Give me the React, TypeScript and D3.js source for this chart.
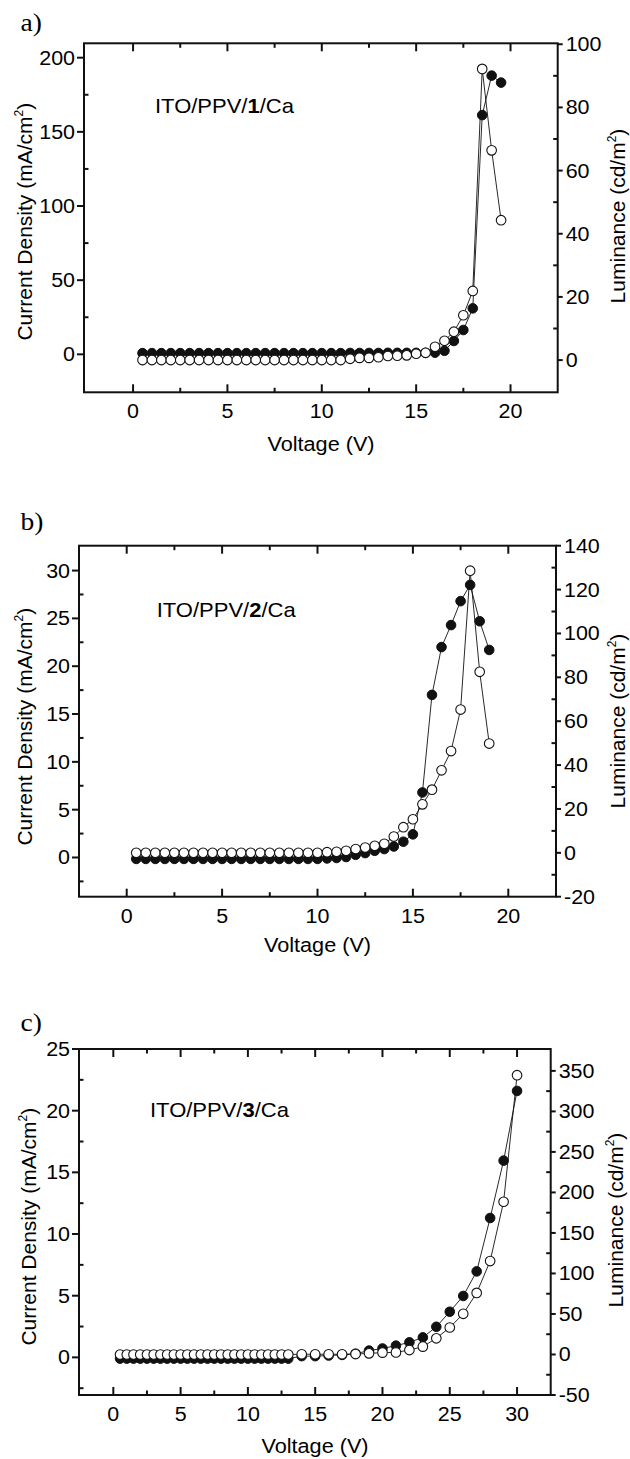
import React from "react";
import * as d3 from "d3";

// ---------- data ----------
const VOLT_A = [0.5,1,1.5,2,2.5,3,3.5,4,4.5,5,5.5,6,6.5,7,7.5,8,8.5,9,9.5,10,10.5,11,11.5,12,12.5,13,13.5,14,14.5,15,15.5,16,16.5,17,17.5,18,18.5,19,19.5];
const J_A = [0.8,0.8,0.8,0.8,0.8,0.8,0.8,0.8,0.8,0.8,0.8,0.8,0.8,0.8,0.8,0.8,0.8,0.8,0.8,0.8,0.8,0.8,0.9,0.9,0.9,0.9,1.0,1.0,1.0,1.0,1.0,1.1,2.4,9.0,16.4,31,161.3,187.9,183.2];
const L_A = [0,0,0,0,0,0,0,0,0,0,0,0,0,0,0,0,0,0,0,0,0,0,0.4,0.7,0.7,0.9,1.3,1.4,1.5,2.0,2.3,4.2,6.1,9.0,14.2,21.9,92.2,66.4,44.3];

const VOLT_B = [0.5,1,1.5,2,2.5,3,3.5,4,4.5,5,5.5,6,6.5,7,7.5,8,8.5,9,9.5,10,10.5,11,11.5,12,12.5,13,13.5,14,14.5,15,15.5,16,16.5,17,17.5,18,18.5,19];
const J_B = [-0.15,-0.15,-0.15,-0.15,-0.15,-0.15,-0.15,-0.15,-0.15,-0.15,-0.15,-0.15,-0.15,-0.15,-0.15,-0.15,-0.15,-0.15,-0.15,-0.15,-0.1,-0.05,0.05,0.28,0.46,0.7,0.88,1.15,1.65,2.42,6.8,17.0,22.0,24.3,26.8,28.5,24.7,21.7];
const L_B = [0,0,0,0,0,0,0,0,0,0,0,0,0,0,0,0,0,0,0,0,0.3,0.5,0.9,1.7,2.4,3.2,4.1,7.4,11.7,15.3,22.1,28.8,37.6,46.4,65.3,128.6,82.5,49.8];

const VOLT_C = [0.5,1,1.5,2,2.5,3,3.5,4,4.5,5,5.5,6,6.5,7,7.5,8,8.5,9,9.5,10,10.5,11,11.5,12,12.5,13,14,15,16,17,18,19,20,21,22,23,24,25,26,27,28,29,30];
const J_C = [-0.1,-0.1,-0.1,-0.1,-0.1,-0.1,-0.1,-0.1,-0.1,-0.1,-0.1,-0.1,-0.1,-0.1,-0.1,-0.1,-0.1,-0.1,-0.1,-0.1,-0.1,-0.1,-0.1,-0.1,-0.1,-0.1,0.1,0.1,0.15,0.2,0.3,0.55,0.72,0.95,1.22,1.62,2.48,3.7,4.98,6.97,11.3,15.95,21.6];
const L_C = [0,0,0,0,0,0,0,0,0,0,0,0,0,0,0,0,0,0,0,0,0,0,0,0,0,0,0.3,0.3,0.3,0.3,0.5,1.4,2.3,2.6,5.5,9.7,20,33.3,50.2,76,115.3,188.5,344.7];

// ---------- ticks ----------
const XT_AB = [0, 5, 10, 15, 20];
const XM_AB = [2.5, 7.5, 12.5, 17.5];
const XT_C = [0, 5, 10, 15, 20, 25, 30];
const XM_C = [2.5, 7.5, 12.5, 17.5, 22.5, 27.5];
const YL_A = [0, 50, 100, 150, 200];
const YLM_A = [25, 75, 125, 175];
const YR_A = [0, 20, 40, 60, 80, 100];
const YRM_A = [10, 30, 50, 70, 90];
const YL_B = [0, 5, 10, 15, 20, 25, 30];
const YLM_B = [-2.5, 2.5, 7.5, 12.5, 17.5, 22.5, 27.5];
const YR_B = [-20, 0, 20, 40, 60, 80, 100, 120, 140];
const YRM_B = [-10, 10, 30, 50, 70, 90, 110, 130];
const YL_C = [0, 5, 10, 15, 20, 25];
const YLM_C = [-2.5, 2.5, 7.5, 12.5, 17.5, 22.5];
const YR_C = [-50, 0, 50, 100, 150, 200, 250, 300, 350];
const YRM_C = [-25, 25, 75, 125, 175, 225, 275, 325];

const SANS = "'Liberation Sans', Arial, Helvetica, sans-serif";
const SERIF = "'Liberation Serif', 'Times New Roman', serif";
const SX = 1.1;

type Cfg = {
  l: number; r: number; t: number; b: number;
  xDom: [number, number]; ylDom: [number, number]; yrDom: [number, number];
  volt: number[]; j: number[]; lum: number[];
  xt: number[]; xm: number[]; ylt: number[]; ylm: number[]; yrt: number[]; yrm: number[];
  tag: string; tagY: number;
  num: string; annX: number; annY: number;
  xTitleX: number; xTitleY: number;
  lTitleX: number; lTitleY: number;
  rTitleX: number; rTitleY: number;
};

function Panel({ c }: { c: Cfg }) {
  const x = d3.scaleLinear().domain(c.xDom).range([c.l, c.r]);
  const yl = d3.scaleLinear().domain(c.ylDom).range([c.b, c.t]);
  const yr = d3.scaleLinear().domain(c.yrDom).range([c.b, c.t]);
  const lineJ = d3.line<number>().x((_, i) => x(c.volt[i])).y((d) => yl(d));
  const lineL = d3.line<number>().x((_, i) => x(c.volt[i])).y((d) => yr(d));
  const fs = 19.5;
  return (
    <g>
      {/* panel tag */}
      <text transform={`translate(20.5,${c.tagY}) scale(${SX},1)`} fontFamily={SERIF} fontSize={25}>{c.tag}</text>
      {/* frame */}
      <rect x={c.l} y={c.t} width={c.r - c.l} height={c.b - c.t} fill="none" stroke="#111" strokeWidth={2} />
      {/* x ticks (inward, top and bottom) */}
      {c.xt.map((v) => (
        <g key={"xt" + v}>
          <line x1={x(v)} x2={x(v)} y1={c.b} y2={c.b - 8} stroke="#111" strokeWidth={2} />
          <line x1={x(v)} x2={x(v)} y1={c.t} y2={c.t + 8} stroke="#111" strokeWidth={2} />
          <text transform={`translate(${x(v)},${c.b + 26}) scale(${SX},1)`} textAnchor="middle" fontFamily={SANS} fontSize={fs}>{v}</text>
        </g>
      ))}
      {c.xm.map((v) => (
        <g key={"xm" + v}>
          <line x1={x(v)} x2={x(v)} y1={c.b} y2={c.b - 4.5} stroke="#111" strokeWidth={2} />
          <line x1={x(v)} x2={x(v)} y1={c.t} y2={c.t + 4.5} stroke="#111" strokeWidth={2} />
        </g>
      ))}
      {/* left y ticks */}
      {c.ylt.map((v) => (
        <g key={"yl" + v}>
          <line x1={c.l - 7} x2={c.l} y1={yl(v)} y2={yl(v)} stroke="#111" strokeWidth={2} />
          <text transform={`translate(${c.l - 9},${yl(v) + 7}) scale(${SX},1)`} textAnchor="end" fontFamily={SANS} fontSize={fs}>{v}</text>
        </g>
      ))}
      {c.ylm.map((v) => (
        <line key={"ylm" + v} x1={c.l} x2={c.l + 4.5} y1={yl(v)} y2={yl(v)} stroke="#111" strokeWidth={2} />
      ))}
      {/* right y ticks */}
      {c.yrt.map((v) => (
        <g key={"yr" + v}>
          <line x1={c.r} x2={c.r + 5} y1={yr(v)} y2={yr(v)} stroke="#111" strokeWidth={2} />
          <text transform={`translate(${c.r + 8},${yr(v) + 7}) scale(${SX},1)`} textAnchor="start" fontFamily={SANS} fontSize={fs}>{v}</text>
        </g>
      ))}
      {c.yrm.map((v) => (
        <line key={"yrm" + v} x1={c.r - 4.5} x2={c.r} y1={yr(v)} y2={yr(v)} stroke="#111" strokeWidth={2} />
      ))}
      {/* annotation */}
      <text transform={`translate(${c.annX},${c.annY}) scale(${SX},1)`} fontFamily={SANS} fontSize={20}>
        ITO/PPV/<tspan fontWeight="bold">{c.num}</tspan>/Ca
      </text>
      {/* axis titles */}
      <text transform={`translate(${c.xTitleX},${c.xTitleY}) scale(${SX},1)`} textAnchor="middle" fontFamily={SANS} fontSize={19.7}>Voltage (V)</text>
      <text transform={`translate(${c.lTitleX},${c.lTitleY}) rotate(-90)`} textAnchor="middle" fontFamily={SANS} fontSize={21}>
        Current Density (mA/cm<tspan fontSize={12} dy={-9}>2</tspan><tspan dy={9}>)</tspan>
      </text>
      <text transform={`translate(${c.rTitleX},${c.rTitleY}) rotate(-90)`} textAnchor="middle" fontFamily={SANS} fontSize={21}>
        Luminance (cd/m<tspan fontSize={12} dy={-9}>2</tspan><tspan dy={9}>)</tspan>
      </text>
      {/* data: current density (filled) */}
      <path d={lineJ(c.j) || ""} fill="none" stroke="#111" strokeWidth={0.9} />
      {c.j.map((d, i) => (
        <circle key={"j" + i} cx={x(c.volt[i])} cy={yl(d)} r={4.8} fill="#111" stroke="#111" strokeWidth={1} />
      ))}
      {/* data: luminance (open) */}
      <path d={lineL(c.lum) || ""} fill="none" stroke="#111" strokeWidth={0.9} />
      {c.lum.map((d, i) => (
        <circle key={"l" + i} cx={x(c.volt[i])} cy={yr(d)} r={4.8} fill="#fff" stroke="#111" strokeWidth={1.1} />
      ))}
    </g>
  );
}

const PANELS: Cfg[] = [
  {
    l: 84, r: 557.7, t: 43.3, b: 392.3,
    xDom: [-2.6, 22.5], ylDom: [-25.6, 209.7], yrDom: [-10.2, 100.3],
    volt: VOLT_A, j: J_A, lum: L_A,
    xt: XT_AB, xm: XM_AB, ylt: YL_A, ylm: YLM_A, yrt: YR_A, yrm: YRM_A,
    tag: "a)", tagY: 31, num: "1", annX: 155, annY: 113.3,
    xTitleX: 321, xTitleY: 451, lTitleX: 31.7, lTitleY: 221.7, rTitleX: 624.5, rTitleY: 216,
  },
  {
    l: 79, r: 556, t: 545.7, b: 896.7,
    xDom: [-2.5, 22.5], ylDom: [-4.1, 32.6], yrDom: [-20, 140],
    volt: VOLT_B, j: J_B, lum: L_B,
    xt: XT_AB, xm: XM_AB, ylt: YL_B, ylm: YLM_B, yrt: YR_B, yrm: YRM_B,
    tag: "b)", tagY: 530, num: "2", annX: 156.7, annY: 616.7,
    xTitleX: 317.5, xTitleY: 952, lTitleX: 31.7, lTitleY: 726.7, rTitleX: 624.5, rTitleY: 721,
  },
  {
    l: 79, r: 550.7, t: 1049, b: 1395,
    xDom: [-2.55, 32.5], ylDom: [-3.05, 25], yrDom: [-50, 377],
    volt: VOLT_C, j: J_C, lum: L_C,
    xt: XT_C, xm: XM_C, ylt: YL_C, ylm: YLM_C, yrt: YR_C, yrm: YRM_C,
    tag: "c)", tagY: 1031, num: "3", annX: 150, annY: 1117.3,
    xTitleX: 315, xTitleY: 1452.5, lTitleX: 36, lTitleY: 1226.7, rTitleX: 622.5, rTitleY: 1220,
  },
];

export default function App() {
  return (
    <svg width={630} height={1459} viewBox="0 0 630 1459"
      style={{ position: "absolute", left: 0, top: 0, background: "#fff" }}>
      <rect width={630} height={1459} fill="#fff" />
      {PANELS.map((c, i) => <Panel key={i} c={c} />)}
    </svg>
  );
}
